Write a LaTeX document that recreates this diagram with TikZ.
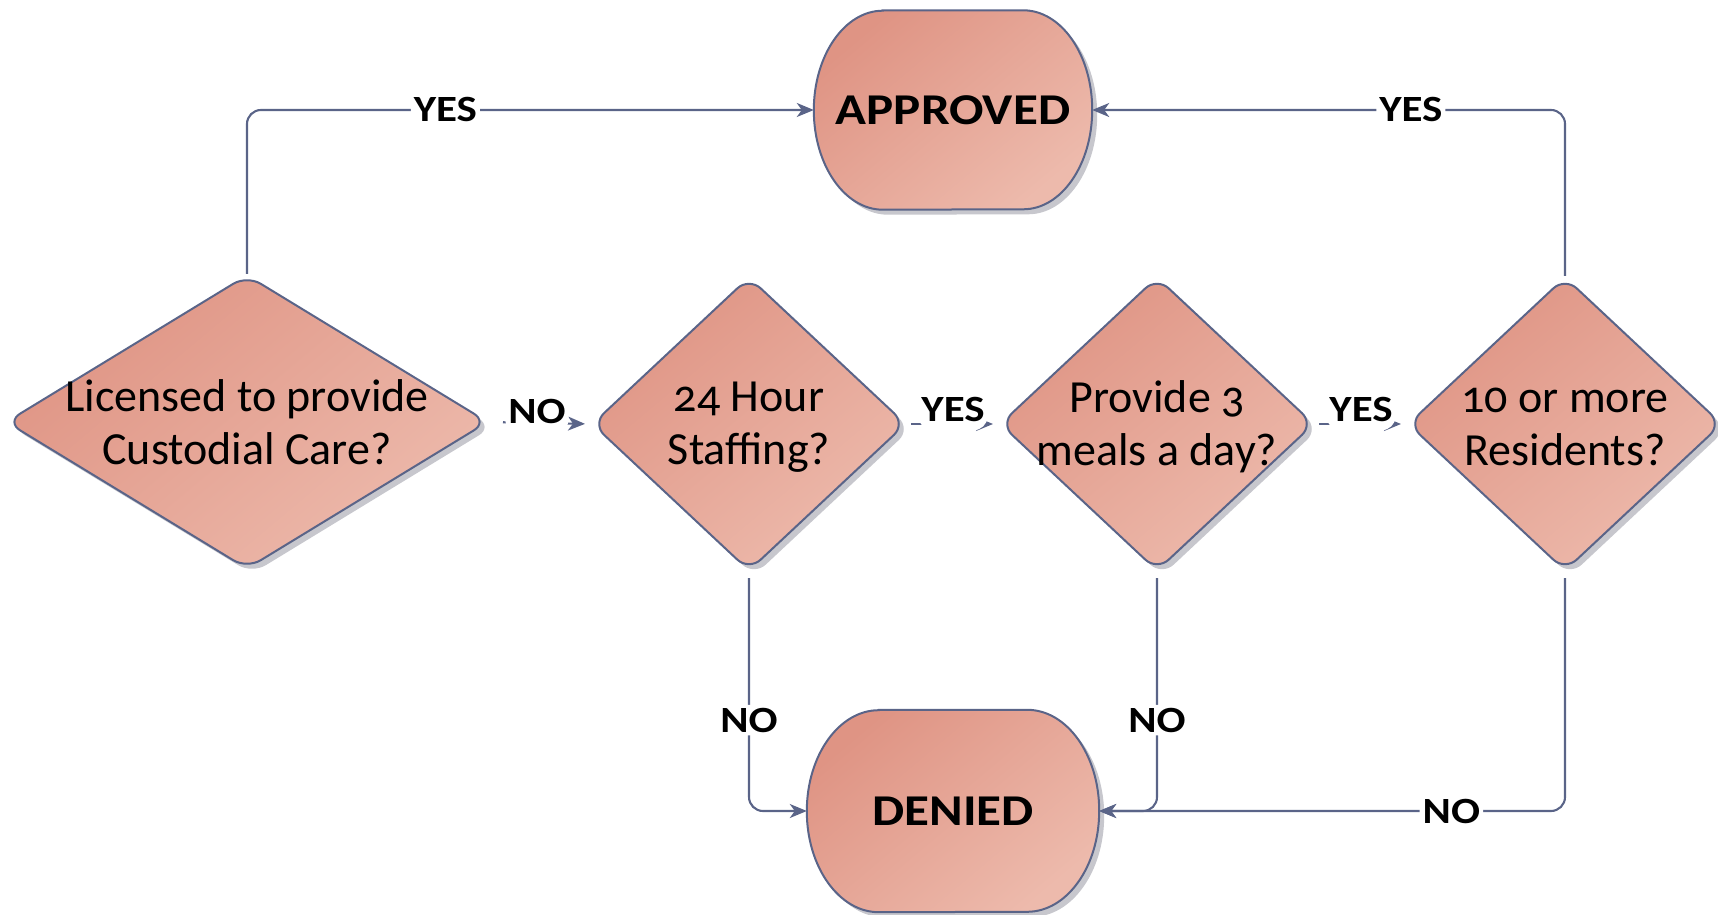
\documentclass[tikz,border=0pt]{standalone}
\usepackage{fontspec}
\usepackage{graphicx}
\setmainfont{Carlito}[Numbers=OldStyle]
\usetikzlibrary{shapes.geometric,arrows.meta,shadows}
\definecolor{edge}{RGB}{90,100,136}
\definecolor{fillA}{RGB}{223,148,132}
\definecolor{fillB}{RGB}{237,186,172}
\definecolor{shade}{RGB}{185,185,192}
% the bold labels are set a little wider than the font draws them
\newcommand{\widebold}[1]{\scalebox{1.16}[1]{\bfseries #1}}

\begin{document}
\begin{tikzpicture}[x=1pt,y=1pt,
  box/.style={draw=edge, line width=2pt, top color=fillA, bottom color=fillB,
    shading angle=40,
    drop shadow={shadow xshift=5pt, shadow yshift=-5pt, fill=shade, opacity=0.8}},
  dia/.style={box, shape=diamond, rounded corners=16pt, inner sep=0pt},
  frame/.style={minimum width=#1, inner sep=0pt, draw=none},
  qtext/.style={font=\fontsize{46}{53}\selectfont, align=center, inner sep=0pt, yshift=-3pt},
  ttext/.style={font=\fontsize{44}{50}\selectfont, inner sep=0pt},
  conn/.style={draw=edge, line width=2.1pt, rounded corners=14pt,
    -{Stealth[length=17pt,width=14pt,inset=5pt]}},
  lab/.style={font=\fontsize{37}{40}\selectfont, fill=white, inner sep=3pt},
  midlab/.style={lab, inner ysep=9pt, yshift=#1}
]
\useasboundingbox (0,0) rectangle (1718,914);

% terminal boxes: flat top and bottom, half-ellipse sides
\node[frame=278pt, minimum height=199pt] (app) at (953,804) {};
\path[box] ([xshift=69pt]app.north west) -- ([xshift=-69pt]app.north east)
  arc[start angle=90, end angle=-90, x radius=69pt, y radius=99.5pt]
  -- ([xshift=69pt]app.south west)
  arc[start angle=270, end angle=90, x radius=69pt, y radius=99.5pt] -- cycle;
\node[ttext] (appt) at (app) {\widebold{APPROVED}};

\node[frame=292pt, minimum height=202pt] (den) at (953,103) {};
\path[box] ([xshift=72pt]den.north west) -- ([xshift=-72pt]den.north east)
  arc[start angle=90, end angle=-90, x radius=72pt, y radius=101pt]
  -- ([xshift=72pt]den.south west)
  arc[start angle=270, end angle=90, x radius=72pt, y radius=101pt] -- cycle;
\node[ttext] (dent) at (den) {\widebold{DENIED}};

% decisions
\node[dia, minimum width=482pt, minimum height=294pt] (d1) at (247,492) {};
\node[qtext, yshift=3pt] (d1t) at (d1) {Licensed to provide\\Custodial Care?};

\node[dia, minimum width=314pt, minimum height=294pt] (d2) at (749,490) {};
\node[qtext] (d2t) at (d2) {24 Hour\\Staffing?};

\node[dia, minimum width=314pt, minimum height=294pt] (d3) at (1157,490) {};
\node[qtext] (d3t) at (d3) {Provide 3\\meals a day?};

\node[dia, minimum width=314pt, minimum height=294pt] (d4) at (1565,490) {};
\node[qtext] (d4t) at (d4) {10 or more\\Residents?};

% connectors
\draw[conn] (d1.north) |- node[lab, pos=0.675] {\widebold{YES}} (app.west);
\draw[conn] (d4.north) |- node[lab, pos=0.663] {\widebold{YES}} (app.east);

\draw[conn, shorten <=14pt, shorten >=6pt] (d1.east) -- node[midlab=11pt, pos=0.47] {\widebold{NO}} (d2.west);
\draw[conn, shorten <=4pt, shorten >=6pt] (d2.east) -- node[midlab=15pt, pos=0.5] {\widebold{YES}} (d3.west);
\draw[conn, shorten <=4pt, shorten >=6pt] (d3.east) -- node[midlab=15pt, pos=0.5] {\widebold{YES}} (d4.west);

\draw[conn, shorten <=6pt] (d2.south) |- node[lab, pos=0.31] {\widebold{NO}} (den.west);
\draw[conn, shorten <=6pt] (d3.south) |- node[lab, pos=0.31] {\widebold{NO}} (den.east);
\draw[conn, shorten <=6pt] (d4.south) |- node[lab, pos=0.622] {\widebold{NO}} (den.east);
\end{tikzpicture}
\end{document}
